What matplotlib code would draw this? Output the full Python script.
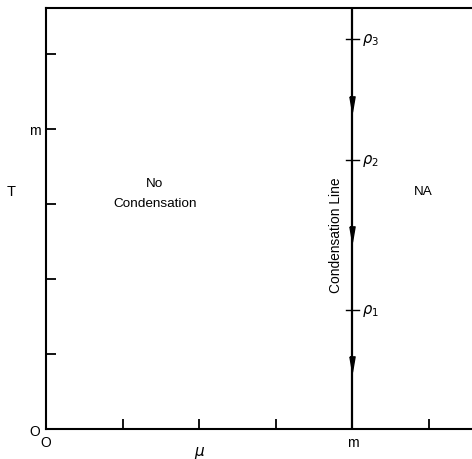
import matplotlib
matplotlib.use("Agg")
import matplotlib.pyplot as plt

plt.rcParams['font.family'] = ['Liberation Sans', 'DejaVu Sans']
plt.rcParams['mathtext.fontset'] = 'dejavusans'

# data
x_ticks = [0, 1, 2, 3, 4, 5]
x_tick_labels = ['O', '', '', '', 'm', '']
y_ticks = [0, 1, 2, 3, 4, 5]
y_tick_labels = ['O', '', '', '', 'm', '']
condensation_mu = 4.0
rho_levels = [1.59, 3.59, 5.2]
rho_labels = [r'$\rho_1$', r'$\rho_2$', r'$\rho_3$']
arrow_levels = [0.87, 2.6, 4.33]

fig = plt.figure(figsize=(4.72, 4.60), dpi=100)
ax = fig.add_axes([0.0975, 0.0652, 0.9025, 0.9152])
ax.set_xlim(0, 5.56)
ax.set_ylim(0, 5.61)

for s in ['left', 'top', 'bottom']:
    ax.spines[s].set_linewidth(1.5)
ax.spines['right'].set_visible(False)

ax.set_xticks(x_ticks)
ax.set_xticklabels(x_tick_labels, fontsize=10)
ax.set_yticks(y_ticks)
ax.set_yticklabels(y_tick_labels, fontsize=10)
ax.tick_params(direction='in', length=7, width=1.3, pad=4)
ax.tick_params(top=False, right=False)

# condensation line
ax.axvline(condensation_mu, color='black', lw=1.6)
for r, lab in zip(rho_levels, rho_labels):
    ax.plot([condensation_mu - 0.09, condensation_mu + 0.09], [r, r], color='black', lw=1.0)
    ax.text(condensation_mu + 0.13, r, lab, fontsize=10.5, va='center', ha='left')
arrow_marker = [(-0.17, 0.5), (0.17, 0.5), (0, -0.5), (-0.17, 0.5)]
ax.plot([condensation_mu] * len(arrow_levels), arrow_levels, linestyle='none',
        marker=arrow_marker, markersize=11, color='black')

ax.text(1.42, 3.15, 'No\nCondensation', fontsize=9.7, ha='center', va='center',
        linespacing=1.9)
ax.text(4.93, 3.17, 'NA', fontsize=9.7, ha='center', va='center')
ax.text(3.79, 2.6, 'Condensation Line', fontsize=9.9, rotation=90,
        ha='center', va='center')

ax.text(-0.45, 3.17, 'T', fontsize=10.5, ha='center', va='center')
ax.text(2.0, -0.3, r'$\mu$', fontsize=11, ha='center', va='center')

fig.savefig('out.png', dpi=100)
